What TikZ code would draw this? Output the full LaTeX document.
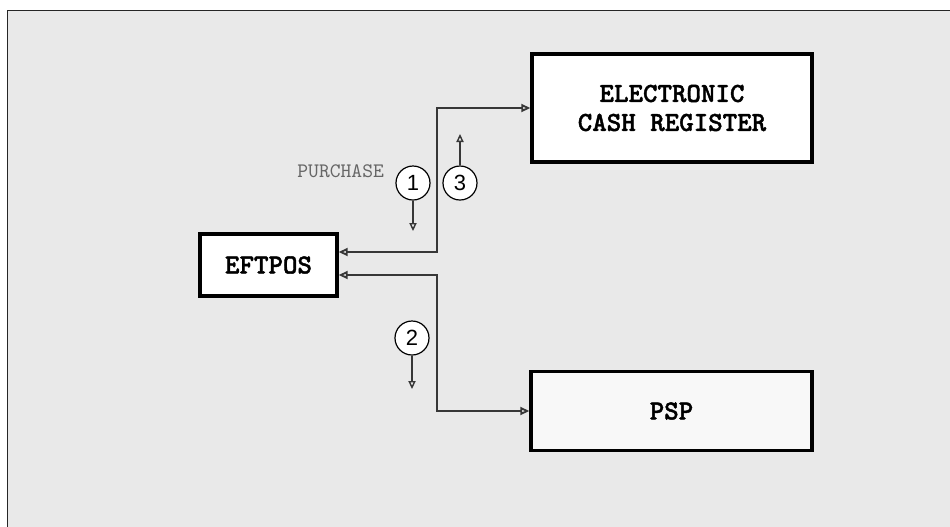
\documentclass[tikz,border=0pt]{standalone}
\usepackage{fontspec}
\usepackage{tikz}
\usetikzlibrary{arrows.meta, positioning, calc}
\newfontfamily\numfont{Liberation Sans}
\newfontfamily\boxfont[FakeBold=1.5]{lmmonolt10-bold.otf}

\begin{document}
\begin{tikzpicture}[
    x=0.5pt, y=-0.5pt,
    every node/.style={align=center, text=black},
    block/.style={
      rectangle, draw=black, line width=1.7pt, fill=white,
      font=\boxfont\fontsize{13.8}{14.5}\selectfont
    },
    stepNum/.style={
      circle, draw=black, line width=0.6pt, fill=white,
      minimum size=17pt, inner sep=0pt,
      font=\numfont\fontsize{11}{12}\selectfont
    },
    note/.style={font=\ttfamily\fontsize{10.3}{12}\selectfont, text=black!60},
    flow/.style={
      {Triangle[open, length=4.5pt, width=4pt]}-{Triangle[open, length=4.5pt, width=4pt]},
      draw=lineTone, line width=0.9pt
    },
    stepArr/.style={-{Triangle[open, length=4pt, width=3.6pt]}, draw=lineTone, line width=0.7pt}
  ]
    \definecolor{bgTone}{RGB}{233,233,233}
    \definecolor{lineTone}{RGB}{55,55,55}
    \definecolor{pspFill}{RGB}{248,248,248}

    % canvas and frame
    \useasboundingbox (0,0) rectangle (950,526);
    \clip (0,0) rectangle (950,526);
    \fill[white] (0,0) rectangle (950,526);
    \draw[fill=bgTone, draw=black!85, line width=0.8pt] (7.5,10.5) rectangle (980,560);

    % blocks
    \node[block, minimum width=68.5pt, minimum height=31pt] (eftpos) at (268.5,265) {EFTPOS};
    \node[block, minimum width=140pt, minimum height=54pt] (ecr) at (672,108) {ELECTRONIC\\CASH REGISTER};
    \node[block, fill=pspFill, minimum width=140.5pt, minimum height=39.5pt] (psp) at (671.5,411) {PSP};

    % connectors
    \coordinate (busTop) at (437,252);
    \coordinate (busBot) at (437,275);
    \draw[flow] (ecr.west) -| (busTop) -- ([yshift=6.5pt]eftpos.east);
    \draw[flow] (psp.west) -| (busBot) -- ([yshift=-5pt]eftpos.east);

    % steps
    \node[stepNum] (s1) at (413,183) {1};
    \node[note, anchor=east] (buy) at (391,171) {PURCHASE};
    \coordinate (s1End) at (413,231);
    \draw[stepArr] (s1.south) -- (s1End);

    \node[stepNum] (s3) at (460,183) {3};
    \coordinate (s3End) at (460,134);
    \draw[stepArr] (s3.north) -- (s3End);

    \node[stepNum] (s2) at (412,338) {2};
    \coordinate (s2End) at (412,389);
    \draw[stepArr] (s2.south) -- (s2End);
\end{tikzpicture}
\end{document}
